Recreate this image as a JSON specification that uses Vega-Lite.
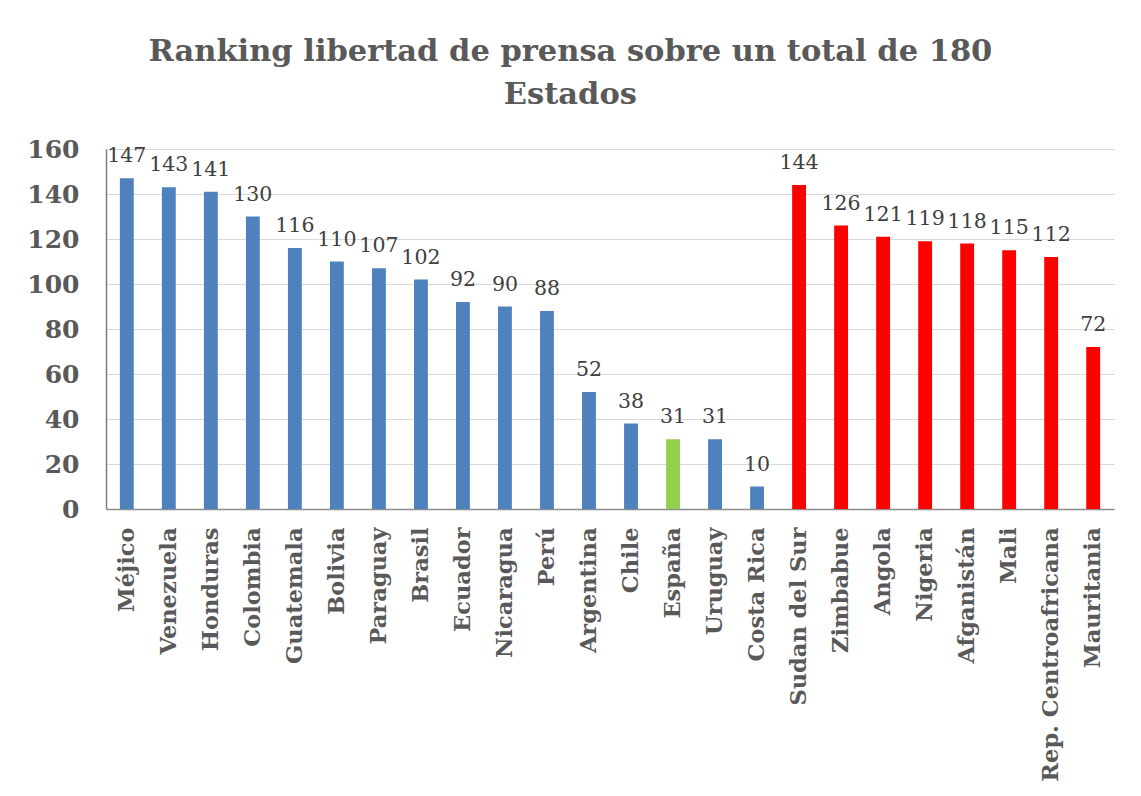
{
  "$schema": "https://vega.github.io/schema/vega-lite/v6.json",
  "autosize": {"type": "none"},
  "width": 1008,
  "height": 360,
  "padding": {"left": 106, "top": 149, "right": 27, "bottom": 287},
  "background": "white",
  "title": {
    "text": ["Ranking libertad de prensa sobre un total de 180", "Estados"],
    "font": "DejaVu Serif",
    "fontSize": 30.5,
    "fontWeight": "bold",
    "color": "#595959",
    "anchor": "middle",
    "frame": "bounds",
    "lineHeight": 43,
    "offset": 27
  },
  "data": {
    "values": [
      {"pais": "Méjico", "ranking": 147, "grupo": "América"},
      {"pais": "Venezuela", "ranking": 143, "grupo": "América"},
      {"pais": "Honduras", "ranking": 141, "grupo": "América"},
      {"pais": "Colombia", "ranking": 130, "grupo": "América"},
      {"pais": "Guatemala", "ranking": 116, "grupo": "América"},
      {"pais": "Bolivia", "ranking": 110, "grupo": "América"},
      {"pais": "Paraguay", "ranking": 107, "grupo": "América"},
      {"pais": "Brasil", "ranking": 102, "grupo": "América"},
      {"pais": "Ecuador", "ranking": 92, "grupo": "América"},
      {"pais": "Nicaragua", "ranking": 90, "grupo": "América"},
      {"pais": "Perú", "ranking": 88, "grupo": "América"},
      {"pais": "Argentina", "ranking": 52, "grupo": "América"},
      {"pais": "Chile", "ranking": 38, "grupo": "América"},
      {"pais": "España", "ranking": 31, "grupo": "España"},
      {"pais": "Uruguay", "ranking": 31, "grupo": "América"},
      {"pais": "Costa Rica", "ranking": 10, "grupo": "América"},
      {"pais": "Sudan del Sur", "ranking": 144, "grupo": "África"},
      {"pais": "Zimbabue", "ranking": 126, "grupo": "África"},
      {"pais": "Angola", "ranking": 121, "grupo": "África"},
      {"pais": "Nigeria", "ranking": 119, "grupo": "África"},
      {"pais": "Afganistán", "ranking": 118, "grupo": "África"},
      {"pais": "Mali", "ranking": 115, "grupo": "África"},
      {"pais": "Rep. Centroafricana", "ranking": 112, "grupo": "África"},
      {"pais": "Mauritania", "ranking": 72, "grupo": "África"}
    ]
  },
  "encoding": {
    "x": {
      "field": "pais",
      "type": "nominal",
      "sort": null,
      "scale": {"paddingInner": 0.67, "paddingOuter": 0.33},
      "axis": {
        "title": null,
        "labelAngle": -90,
        "labelAlign": "right",
        "labelBaseline": "middle",
        "labelFont": "DejaVu Serif",
        "labelFontSize": 22.5,
        "labelFontWeight": "bold",
        "labelColor": "#595959",
        "labelPadding": 18,
        "labelLimit": 400,
        "ticks": false,
        "domainColor": "#8c8c8c",
        "domainWidth": 1.5,
        "grid": false
      }
    },
    "y": {
      "field": "ranking",
      "type": "quantitative",
      "scale": {"domain": [0, 160], "nice": false},
      "axis": {
        "title": null,
        "values": [0, 20, 40, 60, 80, 100, 120, 140, 160],
        "labelFont": "DejaVu Serif",
        "labelFontSize": 25,
        "labelFontWeight": "bold",
        "labelColor": "#595959",
        "labelPadding": 27,
        "ticks": false,
        "domainColor": "#7f7f7f",
        "domainWidth": 1.5,
        "gridColor": "#d9d9d9",
        "gridWidth": 1.2
      }
    }
  },
  "layer": [
    {
      "mark": {"type": "bar"},
      "encoding": {
        "color": {
          "field": "grupo",
          "type": "nominal",
          "scale": {"domain": ["América", "España", "África"], "range": ["#4f81bd", "#92d050", "#ff0000"]},
          "legend": null
        }
      }
    },
    {
      "mark": {"type": "text", "baseline": "alphabetic", "dy": -16, "font": "DejaVu Serif", "fontSize": 20.5, "color": "#404040"},
      "encoding": {"text": {"field": "ranking", "type": "quantitative"}}
    }
  ],
  "config": {"view": {"stroke": null}}
}
